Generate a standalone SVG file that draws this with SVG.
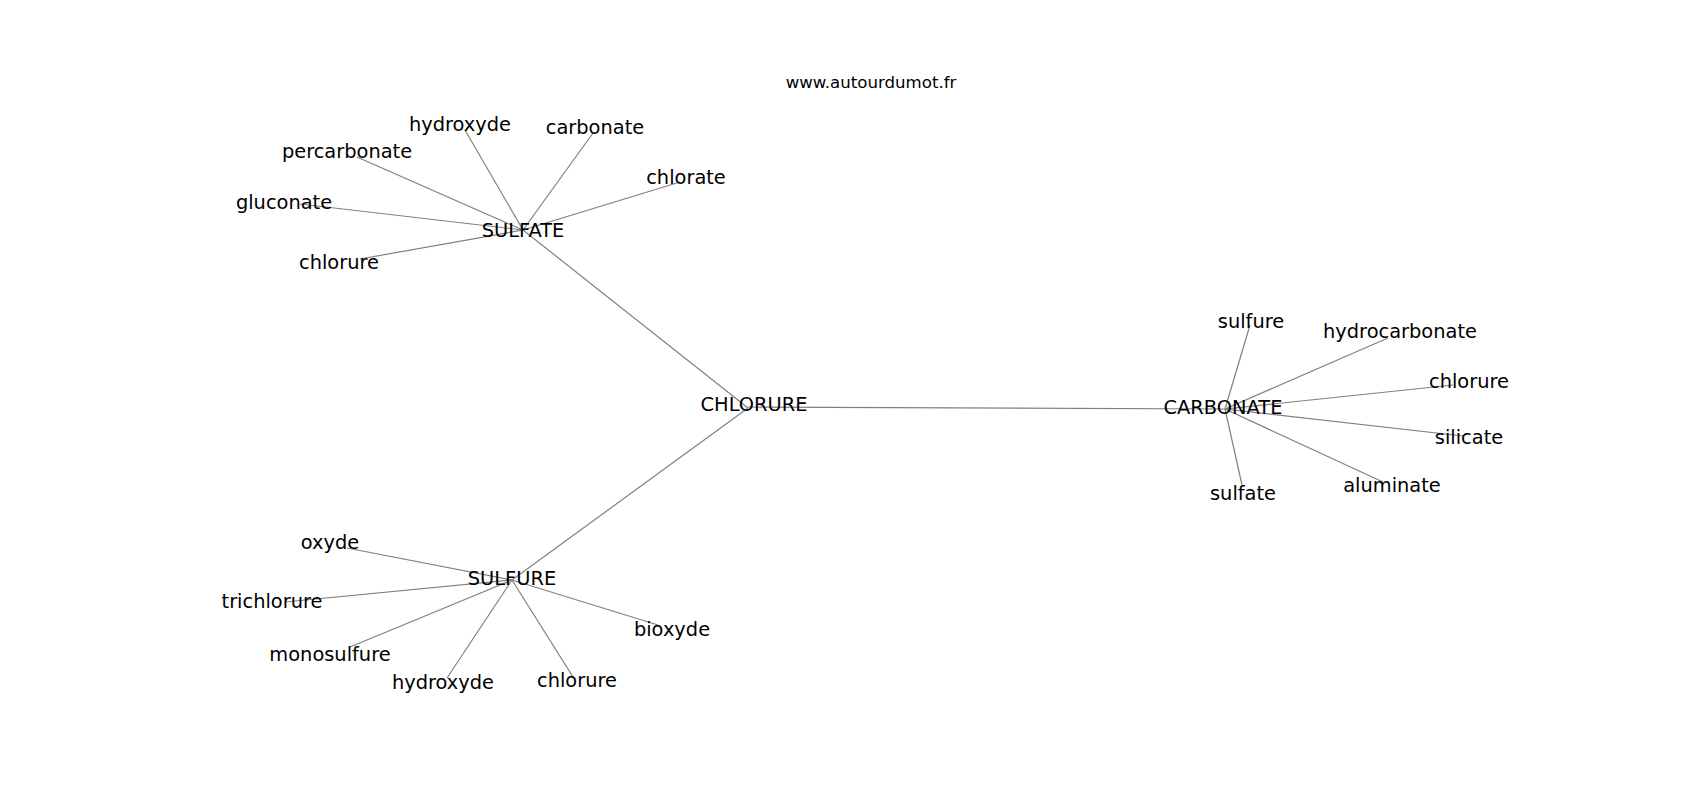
<svg xmlns="http://www.w3.org/2000/svg" width="1700" height="800" viewBox="0 0 1700 800">
<style>
.bg{fill:#ffffff}
.e{stroke:#808080;stroke-width:1.2;fill:none}
.t{font-family:"DejaVu Sans","Liberation Sans",sans-serif;font-size:19.4px;fill:#000000;text-anchor:middle}
.title{font-family:"DejaVu Sans","Liberation Sans",sans-serif;font-size:16.6px;fill:#000000;text-anchor:middle}
</style>
<rect class="bg" x="0" y="0" width="1700" height="800"/>
<text class="title" x="871" y="88">www.autourdumot.fr</text>
<g id="connectors">
<line class="e" x1="523" y1="230" x2="748" y2="408"/>
<line class="e" x1="748" y1="407" x2="1225" y2="409"/>
<line class="e" x1="748" y1="408" x2="512" y2="580"/>
<line class="e" x1="523" y1="230" x2="465" y2="130"/>
<line class="e" x1="523" y1="230" x2="593" y2="133"/>
<line class="e" x1="523" y1="230" x2="357" y2="157"/>
<line class="e" x1="523" y1="230" x2="300" y2="204"/>
<line class="e" x1="523" y1="230" x2="680" y2="182"/>
<line class="e" x1="523" y1="230" x2="360" y2="259"/>
<line class="e" x1="1225" y1="409" x2="1250" y2="325"/>
<line class="e" x1="1225" y1="409" x2="1388" y2="338"/>
<line class="e" x1="1225" y1="409" x2="1453" y2="385"/>
<line class="e" x1="1225" y1="409" x2="1463" y2="436"/>
<line class="e" x1="1225" y1="409" x2="1383" y2="482"/>
<line class="e" x1="1225" y1="409" x2="1242" y2="485"/>
<line class="e" x1="512" y1="580" x2="347" y2="548"/>
<line class="e" x1="512" y1="580" x2="285" y2="602"/>
<line class="e" x1="512" y1="580" x2="350" y2="647"/>
<line class="e" x1="512" y1="580" x2="447" y2="678"/>
<line class="e" x1="512" y1="580" x2="573" y2="677"/>
<line class="e" x1="512" y1="580" x2="658" y2="625"/>
</g>
<g id="n-chlorure-hub"><text class="t" x="754" y="411">CHLORURE</text></g>
<g id="n-sulfate-hub"><text class="t" x="523" y="237">SULFATE</text></g>
<g id="n-carbonate-hub"><text class="t" x="1223" y="414">CARBONATE</text></g>
<g id="n-sulfure-hub"><text class="t" x="512" y="585">SULFURE</text></g>
<g id="n-sulfate-hydroxyde"><text class="t" x="460" y="131">hydroxyde</text></g>
<g id="n-sulfate-carbonate"><text class="t" x="595" y="134">carbonate</text></g>
<g id="n-sulfate-percarbonate"><text class="t" x="347" y="158">percarbonate</text></g>
<g id="n-sulfate-gluconate"><text class="t" x="284" y="209">gluconate</text></g>
<g id="n-sulfate-chlorate"><text class="t" x="686" y="184">chlorate</text></g>
<g id="n-sulfate-chlorure"><text class="t" x="339" y="269">chlorure</text></g>
<g id="n-carbonate-sulfure"><text class="t" x="1251" y="328">sulfure</text></g>
<g id="n-carbonate-hydrocarbonate"><text class="t" x="1400" y="338">hydrocarbonate</text></g>
<g id="n-carbonate-chlorure"><text class="t" x="1469" y="388">chlorure</text></g>
<g id="n-carbonate-silicate"><text class="t" x="1469" y="444">silicate</text></g>
<g id="n-carbonate-aluminate"><text class="t" x="1392" y="492">aluminate</text></g>
<g id="n-carbonate-sulfate"><text class="t" x="1243" y="500">sulfate</text></g>
<g id="n-sulfure-oxyde"><text class="t" x="330" y="549">oxyde</text></g>
<g id="n-sulfure-trichlorure"><text class="t" x="272" y="608">trichlorure</text></g>
<g id="n-sulfure-monosulfure"><text class="t" x="330" y="661">monosulfure</text></g>
<g id="n-sulfure-hydroxyde"><text class="t" x="443" y="689">hydroxyde</text></g>
<g id="n-sulfure-chlorure"><text class="t" x="577" y="687">chlorure</text></g>
<g id="n-sulfure-bioxyde"><text class="t" x="672" y="636">bioxyde</text></g>
</svg>
